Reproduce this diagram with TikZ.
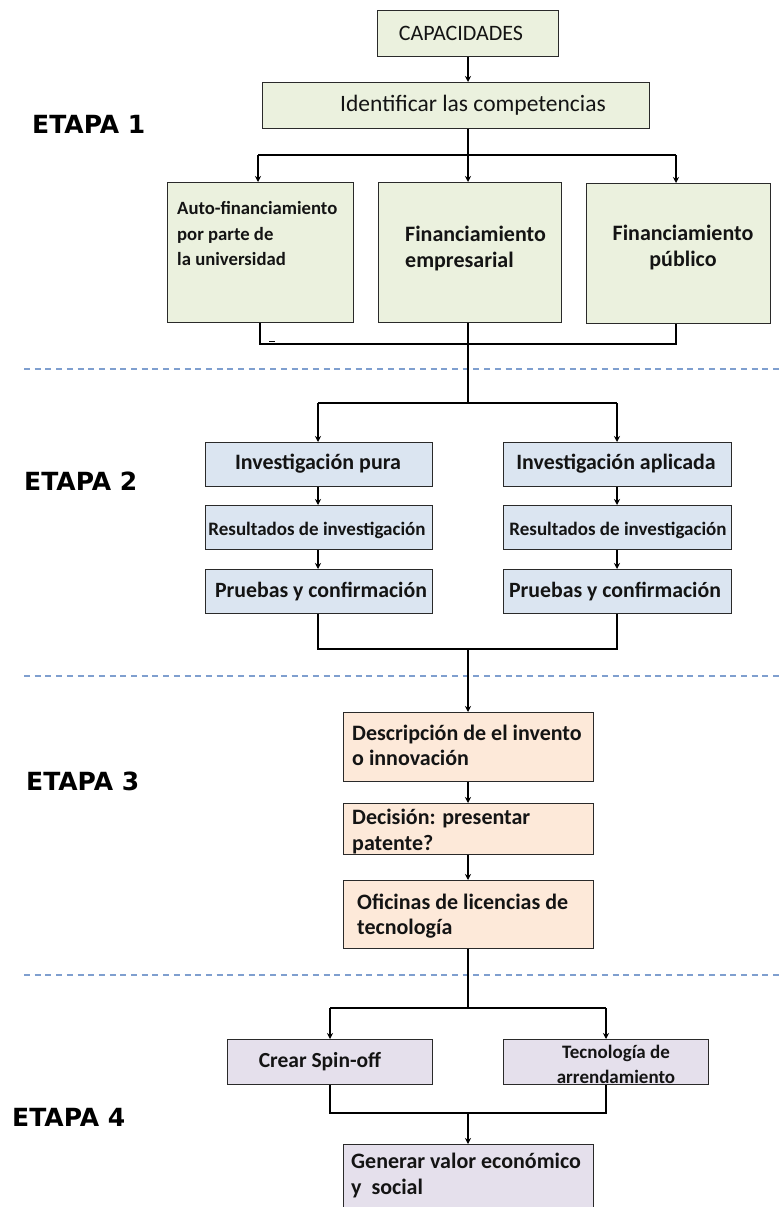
\documentclass[tikz,border=0pt]{standalone}
\usepackage{fontspec}
\setmainfont{Carlito}
\newfontfamily\etfont{DejaVu Sans}[BoldFont={DejaVu Sans Bold}]
\usetikzlibrary{arrows.meta}
\definecolor{gfill}{HTML}{EBF1DE}
\definecolor{bfill}{HTML}{DBE5F1}
\definecolor{ofill}{HTML}{FDE9D9}
\definecolor{pfill}{HTML}{E5E0EC}
\definecolor{sepblue}{HTML}{7F9FCF}
\definecolor{txtc}{HTML}{141414}
\definecolor{edgec}{HTML}{2A2A2A}
\tikzset{
  boxn/.style={draw=edgec, line width=1.3pt, anchor=north west, inner sep=0pt},
  conn/.style={draw=black, line width=1.6pt},
  arr/.style={conn, -{Stealth[length=6pt,width=6pt]}},
  sepline/.style={draw=sepblue, line width=1.6pt, dash pattern=on 6pt off 4.7pt},
  etapa/.style={font=\etfont\bfseries\fontsize{25}{29}\selectfont, text=black, inner sep=0pt, anchor=west, text height=0.729em, text depth=0pt},
  tl/.style={inner sep=0pt, text=txtc, text height=0.7em, text depth=0.2em},
  ml/.style={inner sep=0pt, text=txtc, anchor=north west, align=left},
}
\newcommand{\fs}[2]{\fontsize{#1}{#2}\selectfont}
\newcommand{\st}{\rule{0pt}{0.78em}}
\begin{document}
\begin{tikzpicture}[x=1pt,y=-1pt]
\useasboundingbox (0,0) rectangle (781,1207);
\clip (0,0) rectangle (781,1207);
% separators
\draw[sepline] (24,369) -- (781,369);
\draw[sepline] (24,676) -- (781,676);
\draw[sepline] (24,975) -- (781,975);
% stage labels
\node[etapa] (e1) at (32,130) {ETAPA 1};
\node[etapa] (e2) at (24,487) {ETAPA 2};
\node[etapa] (e3) at (26,787) {ETAPA 3};
\node[etapa] (e4) at (12,1123) {ETAPA 4};
% stage 1 boxes
\node[boxn, fill=gfill, minimum width=181pt, minimum height=46pt] (cap) at (377,10) {};
\node[boxn, fill=gfill, minimum width=387pt, minimum height=46pt] (ident) at (262,82) {};
\node[boxn, fill=gfill, minimum width=186pt, minimum height=140pt] (f1) at (167,182) {};
\node[boxn, fill=gfill, minimum width=183pt, minimum height=140pt] (f2) at (378,182) {};
\node[boxn, fill=gfill, minimum width=184pt, minimum height=140pt] (f3) at (586,183) {};
% stage 2 boxes
\node[boxn, fill=bfill, minimum width=227pt, minimum height=44pt] (ip) at (205,442) {};
\node[boxn, fill=bfill, minimum width=227pt, minimum height=44pt] (rp) at (205,505) {};
\node[boxn, fill=bfill, minimum width=227pt, minimum height=44pt] (pp) at (205,569) {};
\node[boxn, fill=bfill, minimum width=228pt, minimum height=44pt] (ia) at (503,442) {};
\node[boxn, fill=bfill, minimum width=228pt, minimum height=44pt] (ra) at (503,505) {};
\node[boxn, fill=bfill, minimum width=228pt, minimum height=44pt] (pa) at (503,569) {};
% stage 3 boxes
\node[boxn, fill=ofill, minimum width=250pt, minimum height=69pt] (desc) at (343,712) {};
\node[boxn, fill=ofill, minimum width=250pt, minimum height=51pt] (deci) at (343,803) {};
\node[boxn, fill=ofill, minimum width=250pt, minimum height=68pt] (ofi) at (343,880) {};
% stage 4 boxes
\node[boxn, fill=pfill, minimum width=205pt, minimum height=45pt] (spin) at (227,1039) {};
\node[boxn, fill=pfill, minimum width=205pt, minimum height=45pt] (tec) at (503,1039) {};
\node[boxn, fill=pfill, minimum width=250pt, minimum height=90pt] (gen) at (343,1144) {};
% texts
\node[tl, font=\fs{22}{25}] (tcap) at (461,38) {CAPACIDADES};
\node[tl, font=\fs{23.5}{26}] (tident) at (473,109) {Identificar las competencias};
\node[ml, font=\bfseries\fs{18.7}{25.5}] (tf1) at (177,200) {\st Auto-financiamiento\\por parte de\\la universidad};
\node[ml, font=\bfseries\fs{22}{26}] (tf2) at (405,224) {\st Financiamiento\\empresarial};
\node[ml, anchor=north, align=center, font=\bfseries\fs{22}{26}] (tf3) at (683,223) {\st Financiamiento\\público};
\node[tl, font=\bfseries\fs{22}{26}] (tip) at (318,467) {Investigación pura};
\node[tl, font=\bfseries\fs{19}{24}] (trp) at (317,533) {Resultados de investigación};
\node[tl, font=\bfseries\fs{21.8}{26}] (tpp) at (321,595) {Pruebas y confirmación};
\node[tl, font=\bfseries\fs{21.9}{26}] (tia) at (616,467) {Investigación aplicada};
\node[tl, font=\bfseries\fs{19}{24}] (tra) at (618,533) {Resultados de investigación};
\node[tl, font=\bfseries\fs{21.8}{26}] (tpa) at (615,595) {Pruebas y confirmación};
\node[ml, font=\bfseries\fs{22}{25}] (tdesc) at (352,723) {\st Descripción de el invento\\o innovación};
\node[ml, font=\bfseries\fs{22}{26}] (tdeci) at (352,807) {\st Decisión: presentar\\patente?};
\node[ml, font=\bfseries\fs{22}{25}] (tofi) at (357,892) {\st Oficinas de licencias de\\tecnología};
\node[tl, font=\bfseries\fs{21.5}{26}] (tspin) at (320,1065) {Crear Spin-off};
\node[ml, anchor=north, align=center, font=\bfseries\fs{19}{25}] (ttec) at (616,1043) {\st Tecnología de\\arrendamiento};
\node[ml, font=\bfseries\fs{22}{26}] (tgen) at (351,1151) {\st Generar valor económico\\y\hspace{0.45em}social};
% junction coordinates
\coordinate (h1L) at (258,155); \coordinate (h1C) at (468,155); \coordinate (h1R) at (676,155);
\coordinate (m1L) at (260,344); \coordinate (m1C) at (468,344); \coordinate (m1R) at (676,344);
\coordinate (h2L) at (318,403); \coordinate (h2C) at (468,403); \coordinate (h2R) at (617,403);
\coordinate (m2L) at (318,649); \coordinate (m2C) at (468,649); \coordinate (m2R) at (617,649);
\coordinate (h3L) at (330,1008); \coordinate (h3C) at (468,1008); \coordinate (h3R) at (606,1008);
\coordinate (m3L) at (330,1113); \coordinate (m3C) at (468,1113); \coordinate (m3R) at (606,1113);
% stage 1 connectors
\draw[arr] (cap.south -| h1C) -- (ident.north -| h1C);
\draw[conn] (ident.south -| h1C) -- (h1C);
\draw[conn] (h1L) -- (h1R);
\draw[arr] (h1L) -- (h1L |- f1.north);
\draw[arr] (h1C) -- (h1C |- f2.north);
\draw[arr] (h1R) -- (h1R |- f3.north);
\draw[conn] (m1L |- f1.south) -- (m1L) -- (m1R) -- (m1R |- f3.south);
\draw[conn] (m1C |- f2.south) -- (h2C);
\draw[line width=1pt] (269,341) -- (275,341);
% stage 2 connectors
\draw[conn] (h2L) -- (h2R);
\draw[arr] (h2L) -- (h2L |- ip.north);
\draw[arr] (h2R) -- (h2R |- ia.north);
\draw[arr] (ip.south -| h2L) -- (rp.north -| h2L);
\draw[arr] (rp.south -| h2L) -- (pp.north -| h2L);
\draw[arr] (ia.south -| h2R) -- (ra.north -| h2R);
\draw[arr] (ra.south -| h2R) -- (pa.north -| h2R);
\draw[conn] (pp.south -| m2L) -- (m2L) -- (m2R) -- (pa.south -| m2R);
\draw[arr] (m2C) -- (desc.north -| m2C);
% stage 3 connectors
\draw[arr] (desc.south -| m2C) -- (deci.north -| m2C);
\draw[arr] (deci.south -| m2C) -- (ofi.north -| m2C);
\draw[conn] (ofi.south -| h3C) -- (h3C);
\draw[conn] (h3L) -- (h3R);
\draw[arr] (h3L) -- (h3L |- spin.north);
\draw[arr] (h3R) -- (h3R |- tec.north);
% stage 4 connectors
\draw[conn] (spin.south -| m3L) -- (m3L) -- (m3R) -- (tec.south -| m3R);
\draw[arr] (m3C) -- (gen.north -| m3C);
\end{tikzpicture}
\end{document}
